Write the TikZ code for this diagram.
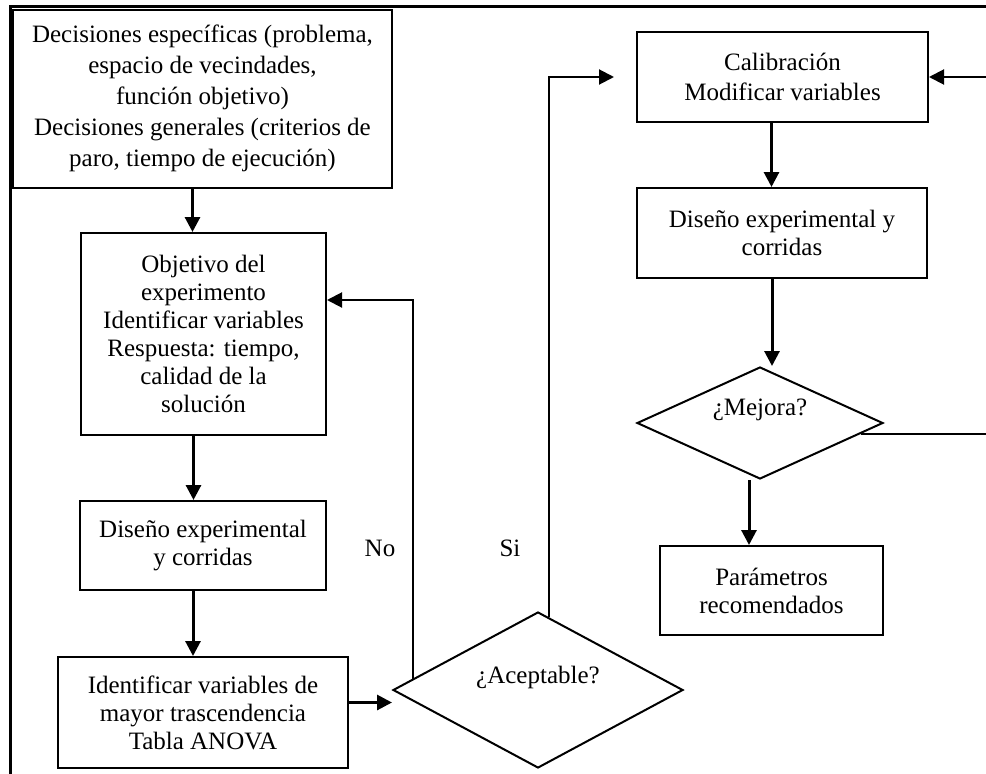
\documentclass[tikz,border=0pt]{standalone}
\usepackage{fontspec}
\setmainfont{Liberation Serif}
\usetikzlibrary{arrows.meta,shapes.geometric,calc}
\begin{document}
\begin{tikzpicture}[x=1pt,y=-1pt,
  box/.style={draw,line width=2pt,rectangle,inner sep=0pt,align=center,
    font=\fontsize{25}{28}\selectfont},
  dmd/.style={draw,line width=2pt,diamond,inner sep=0pt},
  dlabel/.style={font=\fontsize{25}{28}\selectfont,yshift=13pt},
  arr/.style={line width=3pt,-{Triangle[length=15pt,width=15pt]}},
  thinarr/.style={line width=2pt,-{Triangle[length=15pt,width=15pt]}},
  thinline/.style={line width=2pt},
  lbl/.style={font=\fontsize{25}{28}\selectfont,inner sep=0pt}]
\useasboundingbox (0,0) rectangle (986,774);
% frame
\draw[line width=3pt] (10,780) -- (10,6.5) -- (990,6.5);

% nodes
\node[box,minimum width=379pt,minimum height=178pt,font=\fontsize{25}{31}\selectfont] (dec) at (202.5,98.5)
  {Decisiones específicas (problema,\\espacio de vecindades,\\función objetivo)\\Decisiones generales (criterios de\\paro, tiempo de ejecución)};
\node[box,minimum width=245pt,minimum height=202pt] (obj) at (203.5,334)
  {Objetivo del\\experimento\\Identificar variables\\Respuesta: tiempo,\\calidad de la\\solución};
\node[box,minimum width=246pt,minimum height=89pt] (dis1) at (203,545.5)
  {Diseño experimental\\y corridas};
\node[box,minimum width=290pt,minimum height=111pt] (ide) at (203,712.5)
  {Identificar variables de\\mayor trascendencia\\Tabla ANOVA};
\node[dmd,minimum width=290pt,minimum height=156pt,
  label={[dlabel]center:¿Aceptable?}] (acep) at (538,690) {};
\node[box,minimum width=291pt,minimum height=90pt,font=\fontsize{25}{30}\selectfont] (cal) at (782.5,77)
  {Calibración\\Modificar variables};
\node[box,minimum width=290pt,minimum height=90pt] (dis2) at (782,233)
  {Diseño experimental y\\corridas};
\node[dmd,minimum width=246pt,minimum height=112pt,
  label={[dlabel]center:¿Mejora?}] (mej) at (760,423) {};
\node[box,minimum width=223pt,minimum height=89pt] (par) at (771.5,590.5)
  {Parámetros\\recomendados};
\node[lbl] (no) at (380,548) {No};
\node[lbl] (si) at (510,548) {Si};

% connectors
\draw[arr] ([xshift=-10pt]dec.south) -- ([xshift=-10pt]dec.south |- obj.north);
\draw[arr] ([xshift=-10pt]obj.south) -- ([xshift=-10pt]obj.south |- dis1.north);
\draw[arr] ([xshift=-10pt]dis1.south) -- ([xshift=-10pt]dis1.south |- ide.north);
\draw[arr] ([yshift=10pt]ide.east) -- ([yshift=10pt]ide.east -| acep.west);
\coordinate (nostart) at ($(acep.west)!0.145!(acep.north)$);
\draw[thinarr] (nostart) |- ([yshift=34pt]obj.east);
\coordinate (sistart) at ($(acep.north)!0.076!(acep.east)$);
\draw[thinarr] (sistart) |- ([xshift=-22pt]cal.west);
\draw[arr] ([xshift=-11pt]cal.south) -- ([xshift=-11pt]cal.south |- dis2.north);
\draw[arr] ([xshift=-10pt]dis2.south) -- ([xshift=-10pt]dis2.south |- mej.north);
\draw[arr] ([xshift=-11pt]mej.south) -- ([xshift=-11pt]mej.south |- par.north);
\coordinate (mstart) at ($(mej.east)!0.187!(mej.south)$);
\coordinate (rc) at (992,0);
\draw[thinarr] (mstart) -- (mstart -| rc) |- (cal.east);
\end{tikzpicture}
\end{document}
